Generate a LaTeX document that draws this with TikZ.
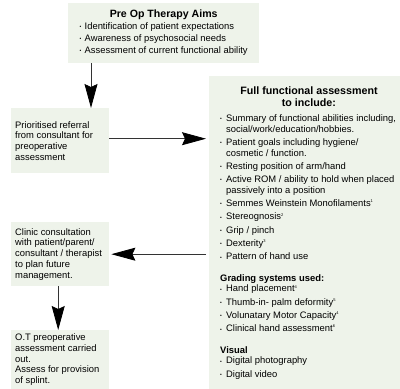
\documentclass[tikz,border=0pt]{standalone}
\usepackage{fontspec}
\setmainfont{Liberation Sans}
\usetikzlibrary{arrows.meta,positioning}
\definecolor{boxfill}{HTML}{EEF3EA}
\definecolor{arrowgrey}{HTML}{333333}
\hyphenpenalty=10000
\exhyphenpenalty=10000
% bullet item with hanging indent
\newcommand{\bitem}[1]{\par\vskip 2.7pt\hangindent=6pt\hangafter=1\noindent\makebox[6pt][l]{\raisebox{0.8pt}{\fontsize{5}{5}\selectfont\textbullet}}#1}
\newcommand{\fnote}[1]{\textsuperscript{\fontsize{4}{4}\selectfont #1}}
\newcommand{\bhead}[1]{\par\vskip 10.9pt\noindent{\bfseries #1}\par\vskip -2.7pt}
\newcommand{\tbul}{\makebox[5pt][l]{\raisebox{0.8pt}{\fontsize{5}{5}\selectfont\textbullet}}}

\tikzset{
    flowbox/.style={fill=boxfill, anchor=north west, inner xsep=4pt, inner ysep=0pt,
        text width=90pt, align=flush left, font=\fontsize{9.4}{10.7}\selectfont},
    flowarrow/.style={draw=arrowgrey, line width=0.8pt,
        -{Stealth[length=24pt,width=13pt,inset=3pt,black]}}
}

\begin{document}
\begin{tikzpicture}[x=1pt,y=-1pt]
    \useasboundingbox (0,0) rectangle (400,389);

    % aims
    \node[fill=boxfill, anchor=north west, inner sep=0pt, minimum width=191pt,
        minimum height=60pt, align=flush center] (aims) at (68,3)
        {{\fontsize{10.6}{11}\selectfont\bfseries Pre Op Therapy Aims}\\[1pt]
         \fontsize{9.4}{11.7}\selectfont
         \begin{tabular}{@{}l@{}}
         \tbul Identification of patient expectations\\
         \tbul Awareness of psychosocial needs\\
         \tbul Assessment of current functional ability
         \end{tabular}};

    % left column
    \node[flowbox, minimum height=65pt] (referral) at (11,108)
        {Prioritised referral from consultant for preoperative assessment};
    \node[flowbox, minimum height=64pt] (clinic) at (11,222)
        {Clinic consultation with patient/parent/ consultant / therapist to plan future management.};
    \node[flowbox, minimum height=59pt] (otassess) at (11,330)
        {O.T preoperative assessment carried out.\\ Assess for provision of splint.};

    % full assessment
    \node[fill=boxfill, anchor=north west, inner xsep=0pt, inner ysep=0pt, text width=191pt,
        minimum height=313pt, align=flush left, font=\fontsize{9.4}{10.6}\selectfont] (assess) at (209,76)
        {\leftskip=11pt\rightskip=2.5pt plus 1fil\spaceskip=0pt\xspaceskip=0pt
         {\fontsize{10.7}{12.3}\selectfont\bfseries\leftskip=11pt plus 1fil\rightskip=2.5pt plus 1fil\parfillskip=0pt
          Full functional assessment\par to include:\par}
         \vskip 2pt
         \bitem{Summary of functional abilities including, social/work/education/hobbies.}
         \bitem{Patient goals including hygiene/\newline cosmetic / function.}
         \bitem{Resting position of arm/hand}
         \bitem{Active ROM / ability to hold when placed passively into a position}
         \bitem{Semmes Weinstein Monofilaments\fnote{1}}
         \bitem{Stereognosis\fnote{2}}
         \bitem{Grip / pinch}
         \bitem{Dexterity\fnote{3}}
         \bitem{Pattern of hand use}
         \bhead{Grading systems used:}
         \bitem{Hand placement\fnote{4}}
         \bitem{Thumb-in- palm deformity\fnote{5}}
         \bitem{Volunatary Motor Capacity\fnote{4}}
         \bitem{Clinical hand assessment\fnote{6}}
         \bhead{Visual}
         \bitem{Digital photography}
         \bitem{Digital video}\par};

    % arrows
    \draw[flowarrow] ([xshift=23pt]aims.south west) -- ([xshift=23pt]aims.south west |- referral.north);
    \draw[flowarrow] ([yshift=2pt]referral.east) -- ([xshift=-3pt,yshift=2pt]referral.east -| assess.west);
    \draw[flowarrow] ([xshift=-3pt]assess.west |- clinic.east) -- ([xshift=2pt]clinic.east);
    \draw[flowarrow] ([xshift=-2pt]clinic.south) -- ([xshift=-2pt]otassess.north);
\end{tikzpicture}
\end{document}
